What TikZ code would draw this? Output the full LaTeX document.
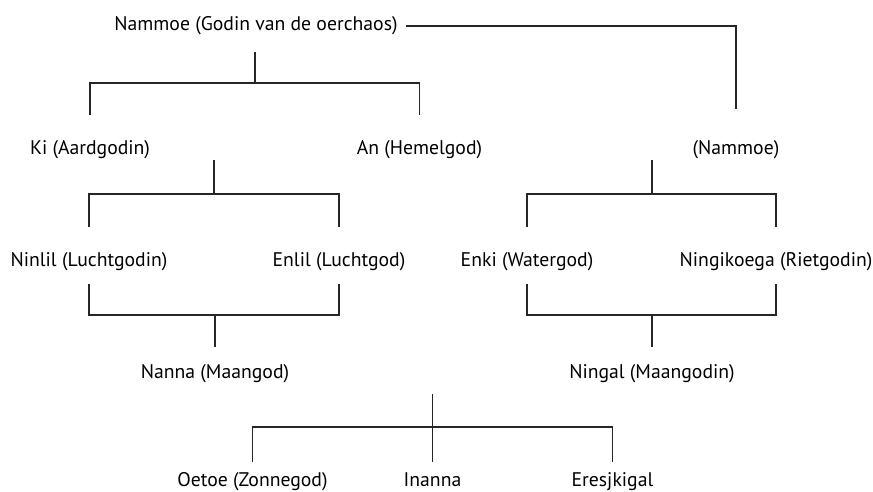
\documentclass[tikz,border=0pt]{standalone}
\usepackage{fontspec}
\setmainfont{PT Sans}
\begin{document}
\begin{tikzpicture}[x=1pt,y=-1pt,
  lbl/.style={inner sep=0pt,anchor=base,font=\fontsize{19.7}{24}\selectfont},
  ln/.style={line width=1.5pt,draw=black!85}]
\useasboundingbox (0,0) rectangle (873,492);
% text nodes
\node[lbl] (nam)  at (256,30.7) {Nammoe (Godin van de oerchaos)};
\node[lbl] (ki)   at (90,154.5) {Ki (Aardgodin)};
\node[lbl] (an)   at (419.5,154.5) {An (Hemelgod)};
\node[lbl] (nam2) at (736,154.5) {(Nammoe)};
\node[lbl] (ninlil) at (89,266) {Ninlil (Luchtgodin)};
\node[lbl] (enlil)  at (339,266) {Enlil (Luchtgod)};
\node[lbl] (enki)   at (527,266) {Enki (Watergod)};
\node[lbl] (ningi)  at (776,266) {Ningikoega (Rietgodin)};
\node[lbl] (nanna)  at (215,378) {Nanna (Maangod)};
\node[lbl] (ningal) at (652,378) {Ningal (Maangodin)};
\node[lbl] (oetoe)  at (252.5,486.5) {Oetoe (Zonnegod)};
\node[lbl] (inanna) at (432.5,486.5) {Inanna};
\node[lbl] (eres)   at (612.5,486.5) {Eresjkigal};
% fork junctions
\coordinate (f1) at (255,83);
\coordinate (f2) at (214,194);
\coordinate (f3) at (652,194);
\coordinate (f4) at (215,315);
\coordinate (f5) at (652,315);
\coordinate (f6) at (432.5,427);
% connectors
\draw[ln] ([xshift=8pt]nam.east |- 0,26) -| (nam2 |- 0,109);
\draw[ln] (f1 |- 0,52) -- (f1);
\draw[ln] (ki |- 0,115) |- (f1) -| (an |- 0,115);
\draw[ln] (f2 |- 0,160) -- (f2);
\draw[ln] (ninlil |- 0,227) |- (f2) -| (enlil |- 0,227);
\draw[ln] (f3 |- 0,160) -- (f3);
\draw[ln] (enki |- 0,227) |- (f3) -| (ningi |- 0,227);
\draw[ln] (ninlil |- 0,284) |- (f4) -| (enlil |- 0,284);
\draw[ln] (f4) -- (nanna |- 0,347);
\draw[ln] (enki |- 0,284) |- (f5) -| (ningi |- 0,284);
\draw[ln] (f5) -- (ningal |- 0,347);
\draw[ln] (f6 |- 0,394) -- (inanna |- 0,462);
\draw[ln] (oetoe |- 0,462) |- (f6) -| (eres |- 0,462);
\end{tikzpicture}
\end{document}
